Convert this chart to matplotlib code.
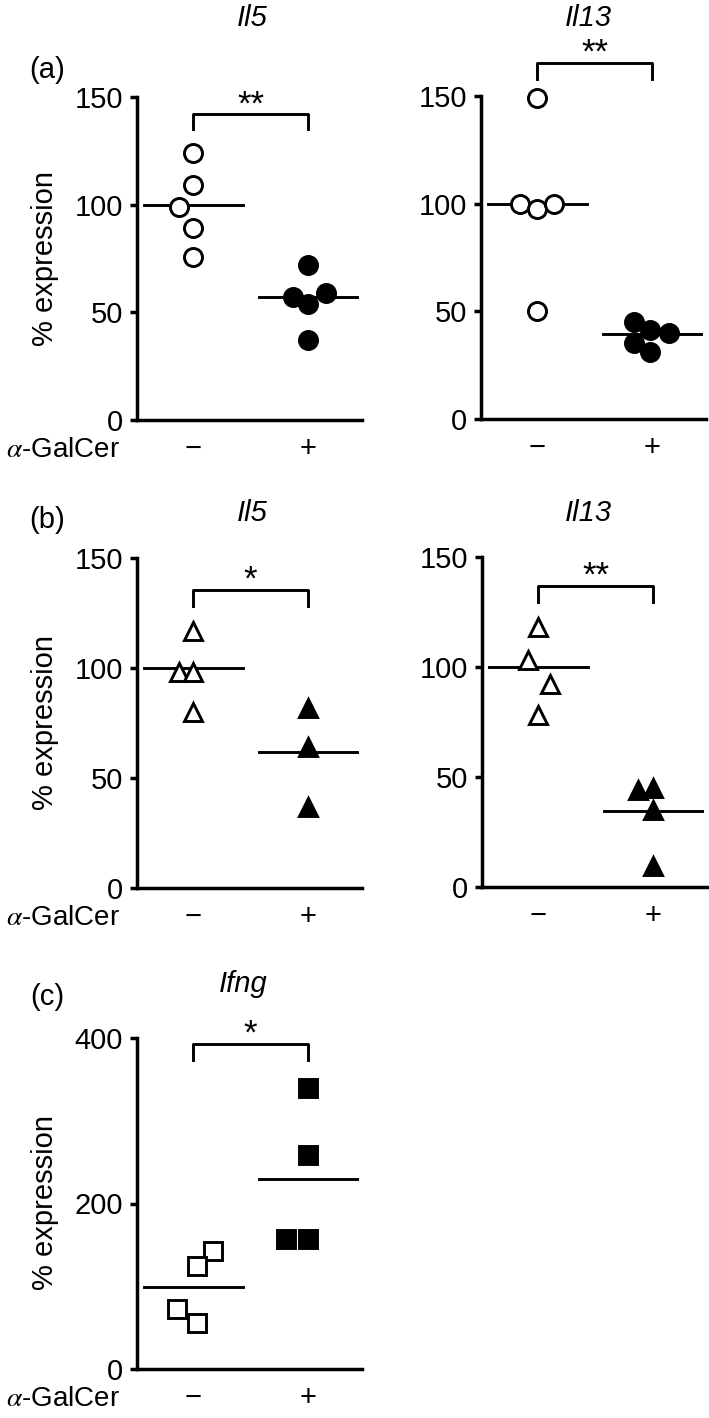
import matplotlib
matplotlib.use('Agg')
import matplotlib.pyplot as plt

plt.rcParams['font.family'] = ['Liberation Sans', 'DejaVu Sans']
plt.rcParams['mathtext.fontset'] = 'stix'
plt.rcParams['font.size'] = 21

groups = ['\u2212', '+']

# (a) Il5 / Il13, circles
a_il5_ctrl = [124, 109, 99, 89, 75.5]
a_il5_gal = [72, 57, 54, 59, 37]
a_il5_mean = [100, 57]
a_il13_ctrl = [149, 100, 97.5, 100, 50]
a_il13_gal = [45, 41.5, 40, 35.5, 31]
a_il13_mean = [100, 39.5]

# (b) Il5 / Il13, triangles
b_il5_ctrl = [117, 98, 98, 80]
b_il5_gal = [82, 64, 37]
b_il5_mean = [100, 62]
b_il13_ctrl = [118, 103, 92.5, 78]
b_il13_gal = [44, 45, 35, 9.5]
b_il13_mean = [100, 34.5]

# (c) Ifng, squares
c_ifng_ctrl = [142, 124.5, 72, 55]
c_ifng_gal = [340, 259, 157, 157]
c_ifng_mean = [99, 230]

# horizontal spread of overlapping points (category units)
a_il5_dx = ([0, 0, -0.12, 0, 0], [0, -0.13, 0, 0.16, 0])
a_il13_dx = ([0, -0.15, 0, 0.15, 0], [-0.16, -0.02, 0.15, -0.16, -0.02])
b_il5_dx = ([0, -0.12, 0, 0], [0, 0, 0])
b_il13_dx = ([0, -0.09, 0.1, 0], [-0.13, 0, 0, 0])
c_ifng_dx = ([0.17, 0.03, -0.14, 0.03], [0, 0, -0.19, 0])

W, H = 709, 1418
fig = plt.figure(figsize=(W / 100, H / 100), dpi=100)
LW = 2.1


def px_axes(left, top, right, bottom):
    return fig.add_axes([left / W, 1 - bottom / H, (right - left) / W, (bottom - top) / H])


def panel(ax, ctrl, gal, dx, means, marker, ymax, yticks, bracket, stars, galcer=False):
    ax.set_xlim(-0.49, 1.47)
    ax.set_ylim(0, ymax)
    ms = 13.5 if marker == '^' else 13
    for i, m in enumerate(means):
        ax.plot([i - 0.43, i + 0.43], [m, m], color='black', lw=LW, zorder=2, clip_on=False)
    ax.plot([0 + d for d in dx[0]], ctrl, ls='none', marker=marker, ms=ms,
            mfc='white', mec='black', mew=LW, zorder=3, clip_on=False)
    ax.plot([1 + d for d in dx[1]], gal, ls='none', marker=marker, ms=ms,
            mfc='black', mec='black', mew=LW, zorder=3, clip_on=False)
    top, leg = bracket
    ax.plot([0, 0, 1, 1], [leg, top, top, leg], color='black', lw=LW, clip_on=False)
    ax.text(0.5, top, stars, ha='center', va='baseline', fontsize=25, clip_on=False)
    for s in ['top', 'right']:
        ax.spines[s].set_visible(False)
    for s in ['left', 'bottom']:
        ax.spines[s].set_linewidth(2.5)
    ax.set_yticks(yticks)
    ax.set_xticks([0, 1], groups)
    ax.tick_params(axis='y', direction='out', length=5, width=2.5, pad=5)
    ax.tick_params(axis='x', length=0, pad=11)
    if galcer:
        ax.annotate(r'$\alpha$-GalCer', xy=(0, 0), xycoords='axes fraction',
                    xytext=(-12, -26.5), textcoords='offset points',
                    ha='right', va='baseline', fontsize=20)


ax1 = px_axes(137, 97, 362, 420)
panel(ax1, a_il5_ctrl, a_il5_gal, a_il5_dx, a_il5_mean, 'o', 150, [0, 50, 100, 150],
      (142, 135), '**', galcer=True)
ax2 = px_axes(481, 96, 706, 419)
panel(ax2, a_il13_ctrl, a_il13_gal, a_il13_dx, a_il13_mean, 'o', 150, [0, 50, 100, 150],
      (165.5, 158), '**')
ax3 = px_axes(137, 558, 362, 888)
panel(ax3, b_il5_ctrl, b_il5_gal, b_il5_dx, b_il5_mean, '^', 150, [0, 50, 100, 150],
      (135.5, 128), '*', galcer=True)
ax4 = px_axes(482, 557, 707, 887)
panel(ax4, b_il13_ctrl, b_il13_gal, b_il13_dx, b_il13_mean, '^', 150, [0, 50, 100, 150],
      (137, 129.5), '**')
ax5 = px_axes(137, 1038, 362, 1369)
panel(ax5, c_ifng_ctrl, c_ifng_gal, c_ifng_dx, c_ifng_mean, 's', 400, [0, 200, 400],
      (393, 373.5), '*', galcer=True)


def ftext(x, y, s, **kw):
    fig.text(x / W, 1 - y / H, s, ha='center', va='center', **kw)


ftext(252, 18, 'Il5', style='italic')
ftext(588, 18, 'Il13', style='italic')
ftext(252, 513, 'Il5', style='italic')
ftext(588, 513, 'Il13', style='italic')
ftext(243, 984, 'Ifng', style='italic')
ftext(47, 70, '(a)')
ftext(47, 520, '(b)')
ftext(47, 997, '(c)')
ftext(45, 258, '% expression', rotation=90)
ftext(45, 723, '% expression', rotation=90)
ftext(45, 1203, '% expression', rotation=90)

fig.savefig('out.png', dpi=100, facecolor='white')
